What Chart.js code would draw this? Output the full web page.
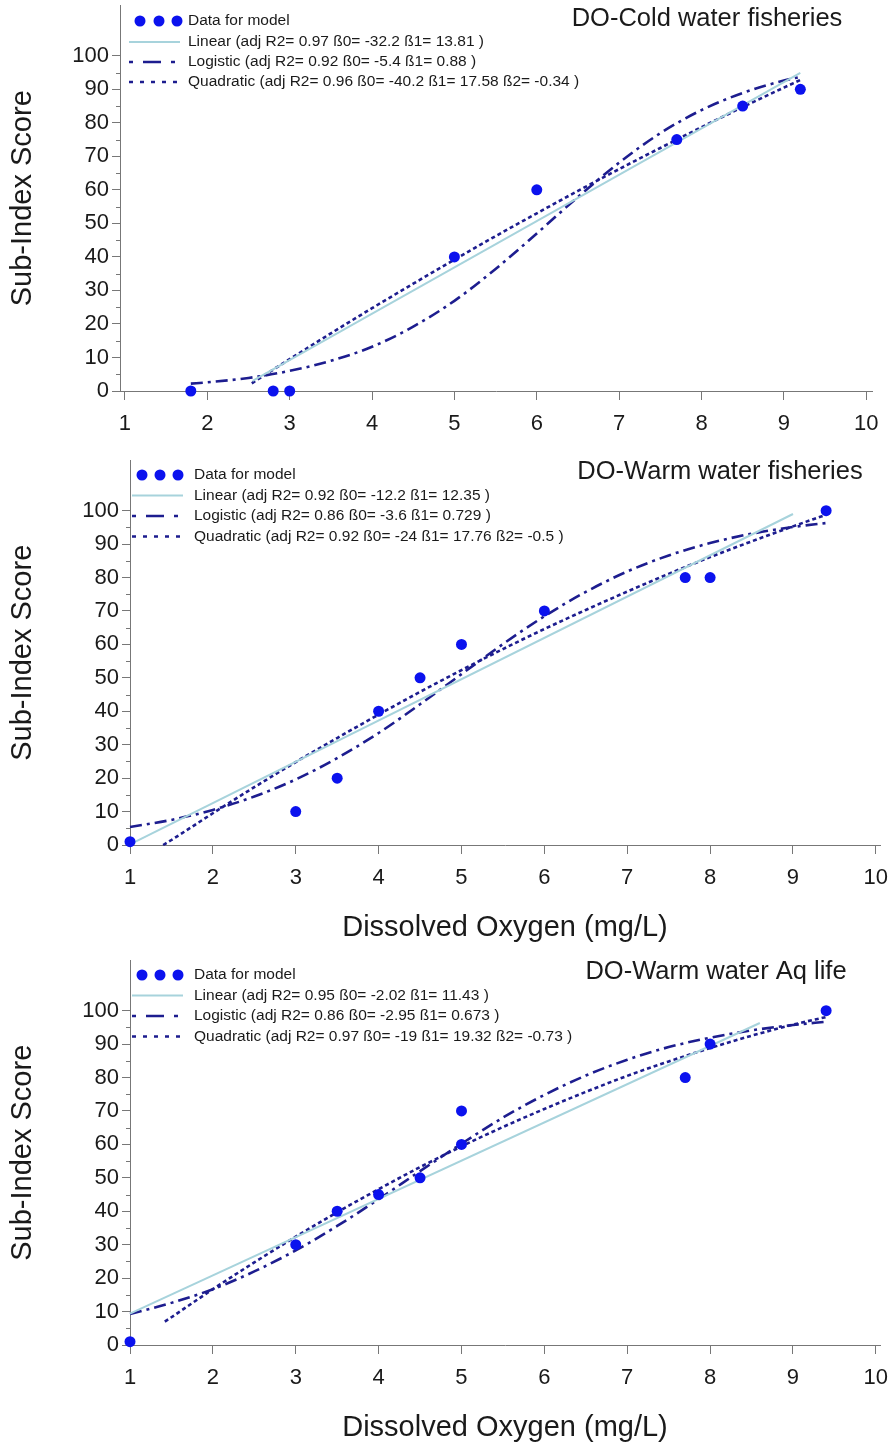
<!DOCTYPE html>
<html>
<head>
<meta charset="utf-8">
<script src="https://cdn.jsdelivr.net/npm/chart.js@4.4.1/dist/chart.umd.min.js"></script>
<style>
  html, body { margin: 0; padding: 0; background: #ffffff; }
  body { width: 893px; height: 1448px; position: relative; overflow: hidden; }
  canvas { position: absolute; left: 0; }
</style>
</head>
<body>
<canvas id="cold" width="893" height="455" style="top:0px"></canvas>
<canvas id="warm" width="893" height="500" style="top:455px"></canvas>
<canvas id="aq" width="893" height="493" style="top:955px"></canvas>
<script>
// ---- Shared axis ticks ----
const xTickValues = [1, 2, 3, 4, 5, 6, 7, 8, 9, 10];
const yTickValues = [0, 10, 20, 30, 40, 50, 60, 70, 80, 90, 100];
const yMinorValues = [5, 15, 25, 35, 45, 55, 65, 75, 85, 95];

// ---- DO - Cold water fisheries ----
const coldObsX = [1.8, 2.8, 3.0, 5.0, 6.0, 7.7, 8.5, 9.2];
const coldObsY = [0, 0, 0, 40, 60, 75, 85, 90];
const coldLinearX = [2.55, 9.2];
const coldLinearY = [3.0, 94.9];
const coldLogisticX = [1.8, 2, 2.5, 3, 3.5, 4, 4.5, 5, 5.5, 6, 6.5, 7, 7.5, 8, 8.5, 9, 9.2];
const coldLogisticY = [2.2, 2.6, 3.9, 6.0, 9.0, 13.2, 19.2, 26.9, 36.4, 47.0, 57.9, 68.1, 76.9, 83.8, 88.9, 92.6, 93.7];
const coldQuadX = [2.54, 3, 3.5, 4, 4.5, 5, 5.5, 6, 6.5, 7, 7.5, 8, 8.5, 9, 9.2];
const coldQuadY = [2.3, 9.5, 17.2, 24.7, 32.0, 39.2, 46.2, 53.0, 59.7, 66.2, 72.5, 78.7, 84.7, 90.5, 92.8];
const coldLabels = [
  'Data for model',
  'Linear (adj R2= 0.97 ß0= -32.2 ß1= 13.81 )',
  'Logistic (adj R2= 0.92 ß0= -5.4 ß1= 0.88 )',
  'Quadratic (adj R2= 0.96 ß0= -40.2 ß1= 17.58 ß2= -0.34 )'
];

// ---- DO - Warm water fisheries ----
const warmObsX = [1, 3, 3.5, 4, 4.5, 5, 6, 7.7, 8, 9.4];
const warmObsY = [1, 10, 20, 40, 50, 60, 70, 80, 80, 100];
const warmLinearX = [1, 9.0];
const warmLinearY = [0.2, 99.0];
const warmLogisticX = [1, 1.5, 2, 2.5, 3, 3.5, 4, 4.5, 5, 5.5, 6, 6.5, 7, 7.5, 8, 8.5, 9, 9.4];
const warmLogisticY = [5.4, 7.5, 10.5, 14.5, 19.6, 26.0, 33.5, 42.1, 51.1, 60.1, 68.4, 75.7, 81.8, 86.6, 90.3, 93.1, 95.1, 96.3];
const warmQuadX = [1.4, 1.5, 2, 2.5, 3, 3.5, 4, 4.5, 5, 5.5, 6, 6.5, 7, 7.5, 8, 8.5, 9, 9.4];
const warmQuadY = [0, 1.5, 9.5, 17.3, 24.8, 32.0, 39.0, 45.8, 52.3, 58.6, 64.6, 70.3, 75.8, 81.1, 86.1, 90.8, 95.3, 98.8];
const warmLabels = [
  'Data for model',
  'Linear (adj R2= 0.92 ß0= -12.2 ß1= 12.35 )',
  'Logistic (adj R2= 0.86 ß0= -3.6 ß1= 0.729 )',
  'Quadratic (adj R2= 0.92 ß0= -24 ß1= 17.76 ß2= -0.5 )'
];

// ---- DO - Warm water aquatic life ----
const aqObsX = [1, 3, 3.5, 4, 4.5, 5, 5, 7.7, 8, 9.4];
const aqObsY = [1, 30, 40, 45, 50, 60, 70, 80, 90, 100];
const aqLinearX = [1, 8.6];
const aqLinearY = [9.4, 96.3];
const aqLogisticX = [1, 1.5, 2, 2.5, 3, 3.5, 4, 4.5, 5, 5.5, 6, 6.5, 7, 7.5, 8, 8.5, 9, 9.4];
const aqLogisticY = [9.3, 12.6, 16.7, 22.0, 28.3, 35.6, 43.6, 52.0, 60.2, 68.0, 74.8, 80.6, 85.3, 89.1, 91.9, 94.1, 95.7, 96.7];
const aqQuadX = [1.42, 1.5, 2, 2.5, 3, 3.5, 4, 4.5, 5, 5.5, 6, 6.5, 7, 7.5, 8, 8.5, 9, 9.4];
const aqQuadY = [7.0, 8.3, 16.7, 24.7, 32.4, 39.7, 46.6, 53.2, 59.4, 65.2, 70.6, 75.7, 80.5, 84.8, 88.8, 92.5, 95.8, 98.1];
const aqLabels = [
  'Data for model',
  'Linear (adj R2= 0.95 ß0= -2.02 ß1= 11.43 )',
  'Logistic (adj R2= 0.86 ß0= -2.95 ß1= 0.673 )',
  'Quadratic (adj R2= 0.97 ß0= -19 ß1= 19.32 ß2= -0.73 )'
];

// ---- Styling ----
const FONT = "'Liberation Sans', Arial, Helvetica, sans-serif";
const AXIS_GREY = '#777777';
const TEXT = '#1a1a1a';
const DOT_BLUE = '#0b12ee';
const LINEAR_BLUE = '#a7d3dc';
const FIT_NAVY = '#1d1d8f';
const LOGISTIC_DASH = [12, 5, 3, 5];
const QUAD_DASH = [4, 3];

const toPoints = (xs, ys) => xs.map((x, i) => ({ x: x, y: ys[i] }));

// Draws the panel heading, the custom legend and the minor y ticks
const panelDecor = {
  id: 'panelDecor',
  afterDraw(chart, args, o) {
    const ctx = chart.ctx;
    const area = chart.chartArea;
    const yScale = chart.scales.y;
    ctx.save();

    // minor ticks on the y axis
    ctx.strokeStyle = AXIS_GREY;
    ctx.lineWidth = 1;
    yMinorValues.forEach(v => {
      const py = Math.round(yScale.getPixelForValue(v)) + 0.5;
      ctx.beginPath();
      ctx.moveTo(area.left - 4, py);
      ctx.lineTo(area.left, py);
      ctx.stroke();
    });

    // heading
    ctx.fillStyle = TEXT;
    ctx.font = '25.5px ' + FONT;
    ctx.textAlign = 'center';
    ctx.textBaseline = 'middle';
    ctx.fillText(o.title, o.titleX, o.titleY);

    // legend
    const ds = chart.data.datasets;
    const L = o.legend;
    ctx.font = '15.5px ' + FONT;
    ctx.textAlign = 'left';
    ds.forEach((d, i) => {
      const ry = L.rows[i];
      if (i === 0) {
        ctx.fillStyle = d.pointBackgroundColor;
        L.dots.forEach(dx => {
          ctx.beginPath();
          ctx.arc(dx, ry, 5.5, 0, Math.PI * 2);
          ctx.fill();
        });
      } else {
        ctx.strokeStyle = d.borderColor;
        ctx.lineWidth = d.borderWidth;
        ctx.setLineDash(L.dashes[i]);
        ctx.beginPath();
        ctx.moveTo(L.lineFrom, ry);
        ctx.lineTo(L.lineTo, ry);
        ctx.stroke();
        ctx.setLineDash([]);
      }
      ctx.fillStyle = TEXT;
      ctx.fillText(d.label, L.textX, ry);
    });
    ctx.restore();
  }
};

function buildPanel(id, p) {
  const datasets = [
    { label: p.labels[0], data: toPoints(p.obsX, p.obsY), showLine: false,
      pointRadius: 5.5, pointBackgroundColor: DOT_BLUE, pointBorderWidth: 0, clip: false },
    { label: p.labels[1], data: toPoints(p.linX, p.linY), showLine: true,
      borderColor: LINEAR_BLUE, borderWidth: 2, pointRadius: 0, clip: false },
    { label: p.labels[2], data: toPoints(p.logX, p.logY), showLine: true,
      borderColor: FIT_NAVY, borderWidth: 2.6, borderDash: LOGISTIC_DASH,
      cubicInterpolationMode: 'monotone', pointRadius: 0, clip: false },
    { label: p.labels[3], data: toPoints(p.quadX, p.quadY), showLine: true,
      borderColor: FIT_NAVY, borderWidth: 2.6, borderDash: QUAD_DASH,
      cubicInterpolationMode: 'monotone', pointRadius: 0, clip: false }
  ];

  return new Chart(document.getElementById(id), {
    type: 'scatter',
    data: { datasets: datasets },
    plugins: [panelDecor],
    options: {
      responsive: false,
      devicePixelRatio: 1,
      animation: false,
      events: [],
      layout: { padding: { left: 0, right: p.padRight, top: p.padTop, bottom: 0 } },
      plugins: {
        legend: { display: false },
        tooltip: { enabled: false },
        panelDecor: {
          title: p.title, titleX: p.titleX, titleY: p.titleY,
          legend: {
            rows: p.legendRows, dots: p.legendDots,
            lineFrom: p.legendLine[0], lineTo: p.legendLine[1], textX: p.legendTextX,
            dashes: [null, [], [4, 10, 18, 10, 4, 80], [4, 7]]
          }
        }
      },
      scales: {
        x: {
          type: 'linear', min: p.xMin, max: p.xMax,
          afterBuildTicks: s => { s.ticks = xTickValues.map(v => ({ value: v })); },
          afterFit: s => { s.height = p.xAxisHeight; s.paddingLeft = 0; s.paddingRight = 0; },
          border: { display: true, color: AXIS_GREY, width: 1 },
          grid: { display: true, drawOnChartArea: false, drawTicks: true, tickLength: 9, tickColor: AXIS_GREY, color: AXIS_GREY },
          ticks: { font: { family: FONT, size: 22 }, color: TEXT, padding: 11, maxRotation: 0, autoSkip: false },
          title: { display: p.showXTitle, text: 'Dissolved Oxygen (mg/L)', color: TEXT,
                   font: { family: FONT, size: 29 }, padding: { top: 0, bottom: p.xTitlePad } }
        },
        y: {
          type: 'linear', min: 0, max: 115,
          afterBuildTicks: s => { s.ticks = yTickValues.map(v => ({ value: v })); },
          afterFit: s => { s.width = p.yAxisWidth; s.paddingTop = 0; s.paddingBottom = 0; },
          border: { display: true, color: AXIS_GREY, width: 1 },
          grid: { display: true, drawOnChartArea: false, drawTicks: true, tickLength: 8, tickColor: AXIS_GREY, color: AXIS_GREY },
          ticks: { font: { family: FONT, size: 22 }, color: TEXT, padding: 3 },
          title: { display: true, text: 'Sub-Index Score', color: TEXT,
                   font: { family: FONT, size: 29 }, padding: { top: 6, bottom: 0 } }
        }
      }
    }
  });
}

buildPanel('cold', {
  obsX: coldObsX, obsY: coldObsY, linX: coldLinearX, linY: coldLinearY,
  logX: coldLogisticX, logY: coldLogisticY, quadX: coldQuadX, quadY: coldQuadY,
  labels: coldLabels, title: 'DO-Cold water fisheries', titleX: 707, titleY: 18.5,
  xMin: 0.94, xMax: 10.07, padRight: 21, padTop: 1, yAxisWidth: 120, xAxisHeight: 64,
  showXTitle: false, xTitlePad: 0,
  legendRows: [21, 42, 62, 82], legendDots: [140, 159, 177], legendLine: [129, 180], legendTextX: 188
});

buildPanel('warm', {
  obsX: warmObsX, obsY: warmObsY, linX: warmLinearX, linY: warmLinearY,
  logX: warmLogisticX, logY: warmLogisticY, quadX: warmQuadX, quadY: warmQuadY,
  labels: warmLabels, title: 'DO-Warm water fisheries', titleX: 720, titleY: 17,
  xMin: 1, xMax: 10.05, padRight: 13, padTop: 0, yAxisWidth: 130, xAxisHeight: 110,
  showXTitle: true, xTitlePad: 10,
  legendRows: [20, 40.5, 61, 81.5], legendDots: [142, 160, 178], legendLine: [132, 183], legendTextX: 194
});

buildPanel('aq', {
  obsX: aqObsX, obsY: aqObsY, linX: aqLinearX, linY: aqLinearY,
  logX: aqLogisticX, logY: aqLogisticY, quadX: aqQuadX, quadY: aqQuadY,
  labels: aqLabels, title: 'DO-Warm water Aq life', titleX: 716, titleY: 17,
  xMin: 1, xMax: 10.05, padRight: 13, padTop: 0, yAxisWidth: 130, xAxisHeight: 103,
  showXTitle: true, xTitlePad: 3,
  legendRows: [20, 40.5, 61, 81.5], legendDots: [142, 160, 178], legendLine: [132, 183], legendTextX: 194
});
</script>
</body>
</html>
